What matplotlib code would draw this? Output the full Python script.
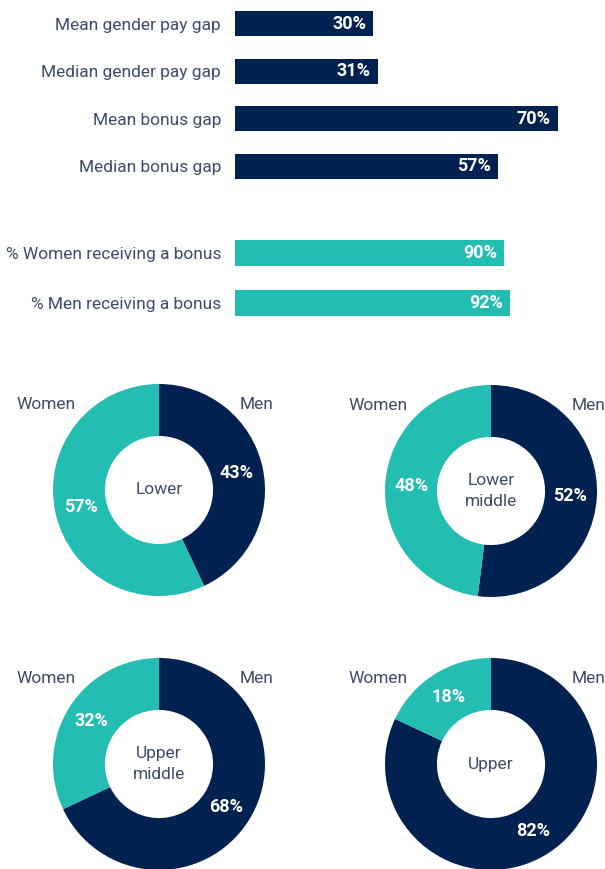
import matplotlib.pyplot as plt

plt.rcParams['font.family'] = ['Roboto', 'DejaVu Sans']

navy = '#012150'
teal = '#23BDB2'
txt = '#3E4C6B'

gap_labels = ['Mean gender pay gap', 'Median gender pay gap', 'Mean bonus gap', 'Median bonus gap']
gap_values = [30, 31, 70, 57]
bonus_labels = ['% Women receiving a bonus', '% Men receiving a bonus']
bonus_values = [90, 92]

quartiles = ['Lower', 'Lower\nmiddle', 'Upper\nmiddle', 'Upper']
men_share = [43, 52, 68, 82]
women_share = [57, 48, 32, 18]

W, H = 605, 869
fig = plt.figure(figsize=(W / 100, H / 100), dpi=100)


def px_axes(x, y, w, h):
    # place an axes using pixel box measured from the top-left
    return fig.add_axes([x / W, 1 - (y + h) / H, w / W, h / H])


def bar_block(ax, labels, values, color, xmax, height):
    ax.barh(range(len(values)), values, height=height, color=color)
    ax.set_ylim(len(values) - 0.5, -0.5)
    ax.set_xlim(0, xmax)
    ax.set_yticks(range(len(values)))
    ax.set_yticklabels(labels, fontsize=12.5, color=txt)
    ax.tick_params(axis='y', length=0, pad=10)
    ax.set_xticks([])
    for s in ax.spines.values():
        s.set_visible(False)
    for i, v in enumerate(values):
        ax.annotate(f'{v}%', xy=(v, i), xytext=(-5, 0), textcoords='offset points',
                    ha='right', va='center', color='white', fontsize=13, fontweight='bold')


ax1 = px_axes(235, 0, 370, 190)
bar_block(ax1, gap_labels, gap_values, navy, 370 / 4.61, 0.53)

ax2 = px_axes(235, 228, 370, 100)
bar_block(ax2, bonus_labels, bonus_values, teal, 370 / 2.99, 0.52)

centers = [(159, 490), (491, 491), (159, 764), (491, 764)]
R = 106
for (cx, cy), name, m, w in zip(centers, quartiles, men_share, women_share):
    ax = px_axes(cx - R, cy - R, 2 * R, 2 * R)
    ax.pie([m, w], colors=[navy, teal], startangle=90, counterclock=False, radius=1,
           wedgeprops=dict(width=0.49, linewidth=0),
           autopct=lambda p: f'{p:.0f}%', pctdistance=0.75,
           textprops=dict(color='white', fontweight='bold', fontsize=13))
    ax.set_xlim(-1, 1)
    ax.set_ylim(-1, 1)
    ax.text(0, 0, name, ha='center', va='center', color=txt, fontsize=12.5, linespacing=1.55)
    ax.text(-1.07, 0.81, 'Women', ha='center', va='center', color=txt, fontsize=12.5)
    ax.text(0.92, 0.81, 'Men', ha='center', va='center', color=txt, fontsize=12.5)

fig.savefig('out.png', dpi=100)
